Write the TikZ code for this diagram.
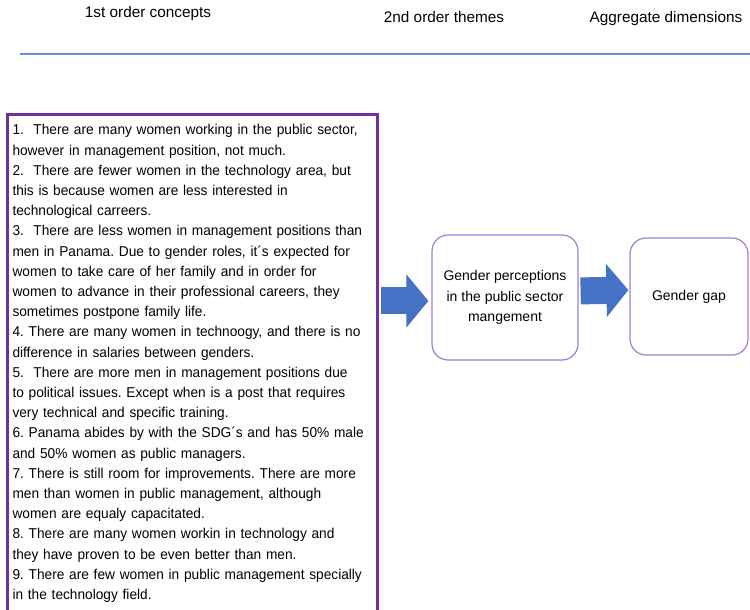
\documentclass[tikz,border=0pt]{standalone}
\usepackage{fontspec}
\setmainfont{Liberation Sans}
\newfontfamily\conceptfont[FakeStretch=0.96]{Liberation Sans}
\usetikzlibrary{arrows.meta}
\definecolor{conceptpurple}{HTML}{7030A0}
\definecolor{themepurple}{HTML}{A47DD6}
\definecolor{arrowblue}{HTML}{4472C4}
\definecolor{ruleblue}{HTML}{6A8DD2}

\begin{document}
\frenchspacing
\begin{tikzpicture}[x=0.75pt,y=-0.75pt,
  header/.style={anchor=base,font=\fontsize{11.5}{14}\selectfont},
  conceptbox/.style={draw=conceptpurple,line width=2.25pt,anchor=north west,align=left,
    text width=270pt,inner xsep=3.75pt,inner ysep=7.5pt,font=\conceptfont\fontsize{10.7}{15.15}\selectfont},
  themebox/.style={draw=themepurple,line width=0.9pt,rounded corners=12pt,align=center,
    font=\fontsize{10.5}{15.4}\selectfont},
  blockarrow/.style={arrowblue,line width=20.25pt,-{Triangle[length=16.5pt,width=39pt]}}]
  \useasboundingbox (0,0) rectangle (750,610);
  \node[header] (hconcepts) at (148,18) {1st order concepts};
  \node[header] (hthemes) at (444,23) {2nd order themes};
  \node[header] (hdims) at (666,23) {Aggregate dimensions};
  \coordinate (ruleL) at (20,54);
  \coordinate (ruleR) at (750,54);
  \draw[ruleblue,line width=1.8pt] (ruleL) -- (ruleR);
  \node[conceptbox] (concepts) at (6,113) {1.\ \ There are many women working in the public sector,\\
    however in management position, not much.\\
    2.\ \ There are fewer women in the technology area, but\\
    this is because women are less interested in\\
    technological carreers.\\
    3.\ \ There are less women in management positions than\\
    men in Panama. Due to gender roles, it´s expected for\\
    women to take care of her family and in order for\\
    women to advance in their professional careers, they\\
    sometimes postpone family life.\\
    4. There are many women in technoogy, and there is no\\
    difference in salaries between genders.\\
    5.\ \ There are more men in management positions due\\
    to political issues. Except when is a post that requires\\
    very technical and specific training.\\
    6. Panama abides by with the SDG´s and has 50\% male\\
    and 50\% women as public managers.\\
    7. There is still room for improvements. There are more\\
    men than women in public management, although\\
    women are equaly capacitated.\\
    8. There are many women workin in technology and\\
    they have proven to be even better than men.\\
    9. There are few women in public management specially\\
    in the technology field.\rule[-14pt]{0pt}{1pt}};
  \node[themebox,minimum width=109.5pt,minimum height=93.75pt] (themes) at (505,297.5)
    {Gender perceptions\\in the public sector\\mangement};
  \node[themebox,minimum width=88.5pt,minimum height=87.75pt] (dims) at (689,296.5)
    {Gender gap};
  \draw[blockarrow,shorten <=1.5pt,shorten >=2.25pt]
    ([yshift=-2.6pt]concepts.east |- themes.west) -- ([yshift=-2.6pt]themes.west);
  \draw[blockarrow,shorten <=1.5pt,shorten >=0.75pt]
    ([yshift=4.9pt]themes.east) -- ([yshift=4.9pt]dims.west);
\end{tikzpicture}
\end{document}
